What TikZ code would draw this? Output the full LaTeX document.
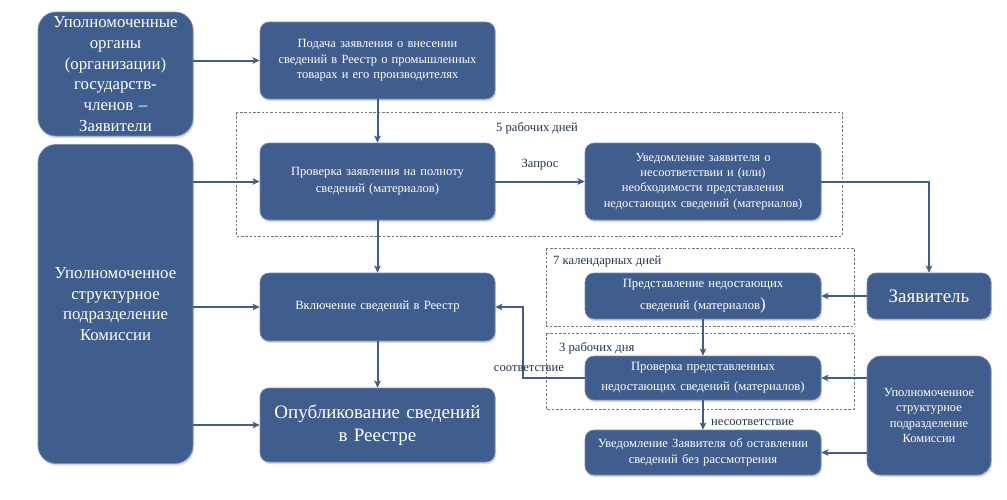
\documentclass[tikz,border=0pt]{standalone}
\usepackage{fontspec}
\setmainfont{Liberation Serif}
\usetikzlibrary{arrows.meta,shadows}
\definecolor{boxblue}{RGB}{63,94,142}
\definecolor{dashgray}{RGB}{120,120,120}
\definecolor{lblnavy}{RGB}{30,50,85}
\tikzset{
  box/.style={rectangle, rounded corners=9pt, fill=boxblue, draw=boxblue!70!white, line width=0.7pt,
    text=white, align=center, inner sep=2pt,
    drop shadow={opacity=0.28, shadow xshift=1.2pt, shadow yshift=-2.2pt}},
  bigbox/.style={box, rounded corners=18pt},
  arr/.style={draw=boxblue, line width=2pt, -{Stealth[length=7pt,width=6.5pt,inset=1.5pt]}},
  period/.style={draw=dashgray, line width=0.7pt, dash pattern=on 2.5pt off 1.8pt},
  lbl/.style={text=lblnavy, font=\fontsize{12.6}{14}\selectfont, inner sep=1pt}
}
\begin{document}
\begin{tikzpicture}[x=1pt,y=-1pt]
\useasboundingbox (0,0) rectangle (1007,499);
% dashed period frames
\draw[period] (236,112) rectangle (842,236);
\draw[period] (546,248) rectangle (854,326);
\draw[period] (546,333) rectangle (854,409);
\node[lbl, anchor=west] (t5) at (495,128) {5 рабочих дней};
\node[lbl, anchor=west] (t7) at (552,262) {7 календарных дней};
\node[lbl, anchor=west] (t3) at (558,348) {3 рабочих дня};
% boxes
\node[bigbox, minimum width=155pt, minimum height=124pt, text width=150pt,
  font=\fontsize{16.8}{20.7}\selectfont] (A) at (115.5,74)
  {Уполномоченные\\органы\\(организации)\\государств-\\членов –\\Заявители};
\node[bigbox, minimum width=155pt, minimum height=319pt, text width=150pt,
  font=\fontsize{16.8}{20.6}\selectfont] (B) at (115.5,304)
  {Уполномоченное\\структурное\\подразделение\\Комиссии};
\node[box, minimum width=235pt, minimum height=77pt, text width=228pt,
  font=\fontsize{12.5}{15.3}\selectfont] (C) at (377.5,60.5)
  {Подача заявления о внесении\\сведений в Реестр о промышленных\\товарах и его производителях};
\node[box, minimum width=235pt, minimum height=77pt, text width=228pt,
  font=\fontsize{12.6}{16.7}\selectfont] (D) at (377.5,181.5)
  {Проверка заявления на полноту\\сведений (материалов)};
\node[box, minimum width=236pt, minimum height=77pt, text width=232pt,
  font=\fontsize{12.4}{15.3}\selectfont] (E) at (703,181.5)
  {Уведомление заявителя о\\несоответствии и (или)\\необходимости представления\\недостающих сведений (материалов)};
\node[box, minimum width=124pt, minimum height=46pt, text width=120pt,
  font=\fontsize{19}{23}\selectfont] (Z) at (929,296)
  {Заявитель};
\node[box, minimum width=236pt, minimum height=46pt, text width=232pt,
  font=\fontsize{12.7}{21.5}\selectfont] (F) at (703,296)
  {Представление недостающих\\сведений (материалов{\fontsize{17}{21.5}\selectfont)}};
\node[box, minimum width=235pt, minimum height=68pt, text width=228pt,
  font=\fontsize{12.6}{15}\selectfont] (J) at (377.5,307)
  {Включение сведений в Реестр};
\node[box, minimum width=236pt, minimum height=44pt, text width=232pt,
  font=\fontsize{12.7}{20}\selectfont] (G) at (703,378)
  {Проверка представленных\\недостающих сведений (материалов)};
\node[box, minimum width=235pt, minimum height=74pt, text width=228pt,
  font=\fontsize{19}{22.5}\selectfont] (K) at (377.5,425)
  {Опубликование сведений\\в Реестре};
\node[box, minimum width=236pt, minimum height=45pt, text width=232pt,
  font=\fontsize{12.6}{15.7}\selectfont] (H) at (703,452.5)
  {Уведомление Заявителя об оставлении\\сведений без рассмотрения};
\node[box, rounded corners=14pt, minimum width=124pt, minimum height=119pt, text width=120pt,
  font=\fontsize{12.5}{15.6}\selectfont] (I) at (929,415.5)
  {Уполномоченное\\структурное\\подразделение\\Комиссии};
% connectors
\draw[arr] (A.east |- C.west) -- (C.west);
\draw[arr] (B.east |- D.west) -- (D.west);
\draw[arr] (B.east |- J.west) -- (J.west);
\draw[arr] (B.east |- K.west) -- (K.west);
\draw[arr] (C.south) -- (D.north);
\draw[arr] (D.south) -- (J.north);
\draw[arr] (J.south) -- (K.north);
\draw[arr] (D.east) -- (E.west);
\node[lbl] (zapros) at (540,165) {Запрос};
\draw[arr] (E.east) -| (Z.north);
\draw[arr] (Z.west) -- (F.east);
\draw[arr] (F.south) -- (G.north);
\coordinate (gj) at (523,378);
\draw[arr] (G.west) -- (gj) |- (J.east);
\node[lbl] (sootv) at (529,369) {соответствие};
\draw[arr] (G.south) -- (H.north);
\node[lbl, anchor=west] (nesootv) at (710,423) {несоответствие};
\draw[arr] (I.west |- G.east) -- (G.east);
\draw[arr] (I.west |- H.east) -- (H.east);
\end{tikzpicture}
\end{document}
